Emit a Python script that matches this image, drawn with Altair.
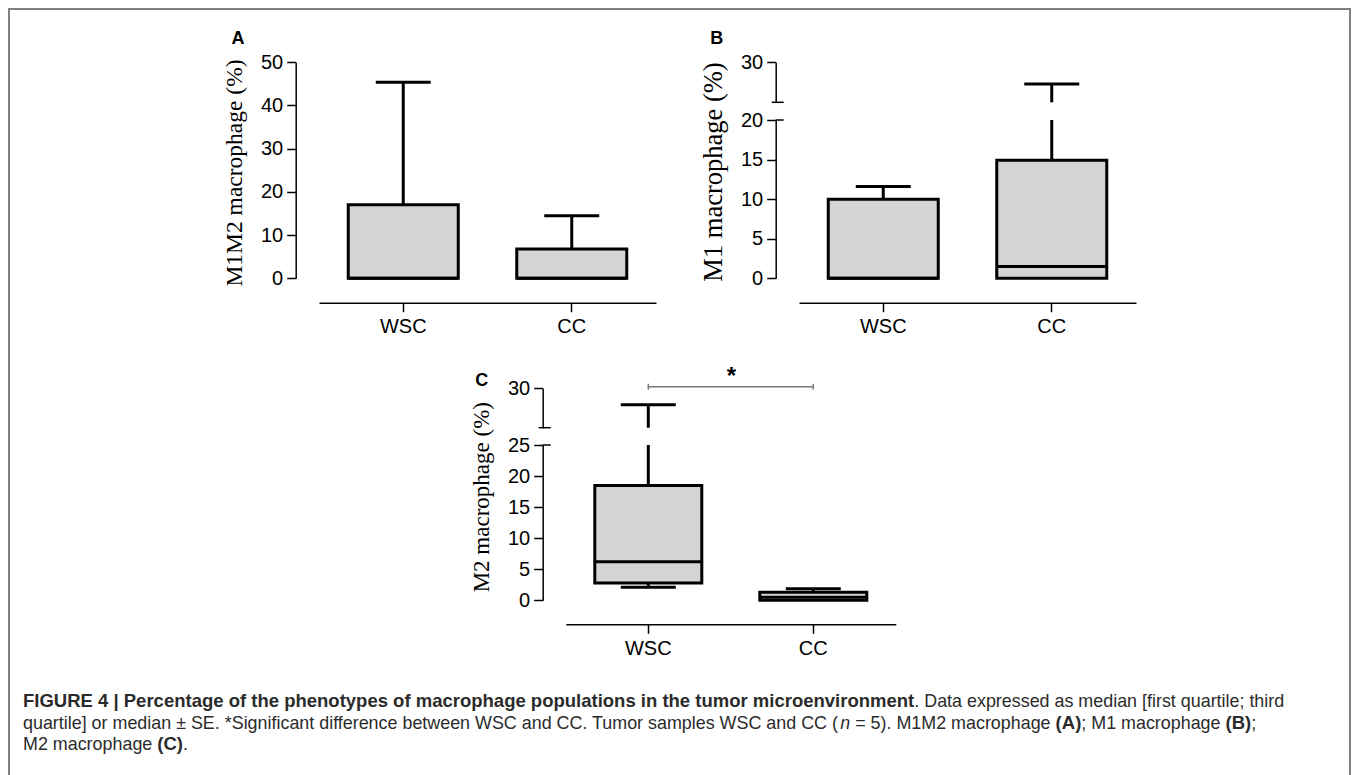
import altair as alt
import pandas as pd

# ---------------- data ----------------
groups = ["WSC", "CC"]

a_min = [0.0, 0.0]
a_q1 = [0.0, 0.0]
a_med = [0.0, 0.0]
a_q3 = [17.0, 6.8]
a_max = [45.4, 14.5]

b_min = [0.0, 0.0]
b_q1 = [0.0, 0.0]
b_med = [0.0, 1.5]
b_q3 = [10.0, 14.9]
b_max = [11.6, 24.6]

c_min = [2.1, 0.0]
c_q1 = [2.8, 0.0]
c_med = [6.2, 0.5]
c_q3 = [18.5, 1.3]
c_max = [27.9, 1.85]

a_ticks = [0, 10, 20, 30, 40, 50]
b_ticks_low = [0, 5, 10, 15, 20]
b_ticks_up = [30]
c_ticks_low = [0, 5, 10, 15, 20, 25]
c_ticks_up = [30]

caption_lines = [
    [("FIGURE 4 | Percentage of the phenotypes of macrophage populations in the tumor microenvironment", "b"),
     (". Data expressed as median [first quartile; third", "r")],
    [("quartile] or median \u00b1 SE. *Significant difference between WSC and CC. Tumor samples WSC and CC (", "r"),
     ("n", "i"), (" = 5). M1M2 macrophage ", "r"), ("(A)", "b"), ("; M1 macrophage ", "r"), ("(B)", "b"), (";", "r")],
    [("M2 macrophage ", "r"), ("(C)", "b"), (".", "r")],
]

# ---------------- layout ----------------
W, H = 1343, 767
FILL = "#d4d4d4"
SANS = "Liberation Sans"
SERIF = "Liberation Serif"


def panel(mins, q1s, meds, q3s, maxs, *, xr, ax_x, xax_y, lo_dom, lo_rng, lo_ticks,
          title, tx, ty, tfs, box_w, cap_w, up_dom=None, up_rng=None, up_ticks=None, sig=None):
    df = pd.DataFrame({"group": groups, "lo": mins, "q1": q1s, "med": meds, "q3": q3s, "hi": maxs})
    lo_top = lo_dom[1]
    df["hi_lo"] = df["hi"].clip(upper=lo_top)
    xsc = alt.Scale(type="band", domain=groups, range=xr, paddingInner=0, paddingOuter=0)
    xax = alt.Axis(orient="bottom", offset=xax_y - H, title=None, labelAngle=0,
                   labelFontSize=20, labelPadding=5, tickSize=9)
    xenc = alt.X("group:N", sort=groups, scale=xsc, axis=xax)

    def XD(v):
        return alt.X(datum=v, type="nominal", scale=xsc, axis=xax)

    ysc = alt.Scale(domain=lo_dom, range=lo_rng, nice=False, zero=False)
    yax = alt.Axis(orient="left", offset=-ax_x, values=lo_ticks, title=title,
                   titleX=tx - ax_x, titleY=ty, titleAngle=270, titleBaseline="middle",
                   titleAlign="center", titleFontSize=tfs)

    def Y(f):
        return alt.Y(f"{f}:Q", scale=ysc, axis=yax)

    def tick(w):
        return dict(size=w, thickness=3, color="black", orient="horizontal", opacity=1)

    base = alt.Chart(df)
    layers = [
        base.transform_filter("datum.hi > datum.q3").mark_rule(strokeWidth=3, color="black")
        .encode(x=xenc, y=Y("q3"), y2="hi_lo"),
        base.transform_filter(f"datum.hi <= {lo_top}").mark_tick(**tick(cap_w))
        .encode(x=xenc, y=Y("hi")),
        base.transform_filter("datum.lo < datum.q1").mark_rule(strokeWidth=3, color="black")
        .encode(x=xenc, y=Y("lo"), y2="q1"),
        base.transform_filter("datum.lo < datum.q1").mark_tick(**tick(cap_w))
        .encode(x=xenc, y=Y("lo")),
        base.mark_bar(width=box_w, fill=FILL, stroke="black", strokeWidth=3)
        .encode(x=xenc, y=Y("q1"), y2="q3"),
        base.mark_tick(**tick(box_w)).encode(x=xenc, y=Y("med")),
    ]
    one = alt.Chart(pd.DataFrame({"k": [0]}))
    if up_dom is not None:
        # right part of the break bar on the lower segment
        layers.append(one.mark_rule(strokeWidth=1.5, color="black").encode(
            x=alt.value(ax_x), x2=alt.value(ax_x + 8),
            y=alt.Y(datum=lo_top, type="quantitative", scale=ysc, axis=yax)))
    lower = alt.layer(*layers)
    if up_dom is None:
        return lower

    usc = alt.Scale(domain=up_dom, range=up_rng, nice=False, zero=False)
    uax = alt.Axis(orient="left", offset=-ax_x, values=up_ticks, title=None)
    up = df[df["hi"] > lo_top].copy()
    up["ub"] = up_dom[0]
    ub = alt.Chart(up)
    ulayers = [
        ub.mark_rule(strokeWidth=3, color="black").encode(
            x=xenc, y=alt.Y("ub:Q", scale=usc, axis=uax), y2="hi"),
        ub.mark_tick(**tick(cap_w)).encode(
            x=xenc, y=alt.Y("hi:Q", scale=usc, axis=uax)),
        one.mark_rule(strokeWidth=1.5, color="black").encode(
            x=alt.value(ax_x - 4), x2=alt.value(ax_x + 8),
            y=alt.Y(datum=up_dom[0], type="quantitative", scale=usc, axis=uax)),
    ]
    if sig is not None:
        sy = alt.Y(datum=sig, type="quantitative", scale=usc, axis=uax)
        ulayers += [
            one.mark_rule(strokeWidth=1.5, color="#777777").encode(
                x=XD("WSC"), x2=alt.X2(datum="CC"), y=sy),
            one.mark_tick(size=6, thickness=1.5, color="#777777", orient="vertical", opacity=1).encode(
                x=XD("WSC"), y=sy),
            one.mark_tick(size=6, thickness=1.5, color="#777777", orient="vertical", opacity=1).encode(
                x=XD("CC"), y=sy),
            one.mark_text(text="*", font=SANS, fontSize=24, fontWeight="bold", color="black",
                          baseline="middle", dx=83, dy=-10).encode(x=XD("WSC"), y=sy),
        ]
    upper = alt.layer(*ulayers)
    return alt.layer(lower, upper).resolve_scale(y="independent")


pA = panel(a_min, a_q1, a_med, a_q3, a_max,
           xr=[311, 648], ax_x=287.7, xax_y=294.7, lo_dom=[0, 50], lo_rng=[270.3, 54.3],
           lo_ticks=a_ticks, title="M1M2 macrophage (%)", tx=226, ty=164.5, tfs=23.5,
           box_w=110, cap_w=55)
pB = panel(b_min, b_q1, b_med, b_q3, b_max,
           xr=[791, 1128], ax_x=767.7, xax_y=294.7, lo_dom=[0, 20], lo_rng=[270.3, 112],
           lo_ticks=b_ticks_low, title="M1 macrophage (%)", tx=705.8, ty=163.5, tfs=26.5,
           box_w=110, cap_w=55, up_dom=[20, 30], up_rng=[94.3, 54.3], up_ticks=b_ticks_up)
pC = panel(c_min, c_q1, c_med, c_q3, c_max,
           xr=[557.8, 887.8], ax_x=534.7, xax_y=616.3, lo_dom=[0, 25], lo_rng=[592.3, 437],
           lo_ticks=c_ticks_low, title="M2 macrophage (%)", tx=473.7, ty=488.7, tfs=23,
           box_w=107, cap_w=55, up_dom=[25, 30], up_rng=[419.7, 380.3], up_ticks=c_ticks_up,
           sig=30.2)

# ---------------- decorations: frame, panel letters, caption ----------------
one = alt.Chart(pd.DataFrame({"k": [0]}))
FRAME = "#808080"
deco = [
    one.mark_rule(color=FRAME, strokeWidth=2).encode(x=alt.value(1), y=alt.value(0), y2=alt.value(H)),
    one.mark_rule(color=FRAME, strokeWidth=2).encode(x=alt.value(W - 1), y=alt.value(0), y2=alt.value(H)),
    one.mark_rule(color=FRAME, strokeWidth=2).encode(x=alt.value(0), x2=alt.value(W), y=alt.value(1)),
]
for letter, lx, ly in [("A", 230, 31), ("B", 708.7, 31), ("C", 473.7, 372.7)]:
    deco.append(one.mark_text(text=letter, font=SANS, fontSize=18, fontWeight="bold", color="black",
                              align="center", baseline="middle").encode(x=alt.value(lx), y=alt.value(ly)))

REG = {" ": 278, "(": 333, ")": 333, ".": 278, ",": 278, ";": 278, "*": 389, "=": 584, "[": 278, "]": 278,
       "\u00b1": 584, "|": 260, "0": 556, "1": 556, "2": 556, "3": 556, "4": 556, "5": 556,
       "A": 667, "B": 667, "C": 722, "D": 722, "E": 667, "F": 611, "G": 778, "M": 833, "S": 667,
       "T": 611, "W": 944, "a": 556, "b": 556, "c": 500, "d": 556, "e": 556, "f": 278, "g": 556,
       "h": 556, "i": 222, "l": 222, "m": 833, "n": 556, "o": 556, "p": 556, "q": 556, "r": 333,
       "s": 500, "t": 278, "u": 556, "v": 500, "w": 722, "x": 500, "y": 500}
BOLD = {" ": 278, "(": 333, ")": 333, ".": 278, "|": 280, "4": 556, "A": 722, "B": 722, "C": 722,
        "E": 667, "F": 611, "G": 778, "I": 278, "P": 667, "R": 722, "U": 722, "a": 556, "c": 556,
        "e": 556, "f": 333, "g": 611, "h": 611, "i": 278, "l": 278, "m": 889, "n": 611, "o": 611,
        "p": 611, "r": 389, "s": 556, "t": 333, "u": 611, "v": 556, "y": 556}

FS = {"b": 18.5, "r": 17.9, "i": 17.9}
CAP_X = 15
CAP_Y = [699, 721, 742]


def tw(s, st):
    tab = BOLD if st == "b" else REG
    return sum(tab.get(ch, 556) for ch in s) / 1000.0 * FS[st]


for line, cy in zip(caption_lines, CAP_Y):
    cx = CAP_X
    for s, st in line:
        lead = len(s) - len(s.lstrip(" "))
        x0 = cx + tw(" " * lead, st)
        txt = s.strip(" ")
        props = dict(text=txt, font=SANS, fontSize=FS[st], color="#2b2b2b", align="left",
                     baseline="alphabetic")
        if st == "b":
            props["fontWeight"] = "bold"
        if st == "i":
            props["fontStyle"] = "italic"
        deco.append(one.mark_text(**props).encode(x=alt.value(x0), y=alt.value(cy)))
        cx += tw(s, st)

chart = alt.layer(pA, pB, pC, *deco).resolve_scale(x="independent", y="independent").properties(
    width=W, height=H, autosize=alt.AutoSizeParams(type="none"), padding=0
).configure_view(stroke=None).configure_axis(
    grid=False, domainColor="black", domainWidth=1.5, tickColor="black", tickWidth=1.5, tickSize=9,
    labelFont=SANS, labelFontSize=20, labelColor="black", labelPadding=4,
    titleFont=SERIF, titleFontSize=23, titleFontWeight="normal", titleColor="black"
)

chart.save("out.html", embed_options={"renderer": "svg", "actions": False})
